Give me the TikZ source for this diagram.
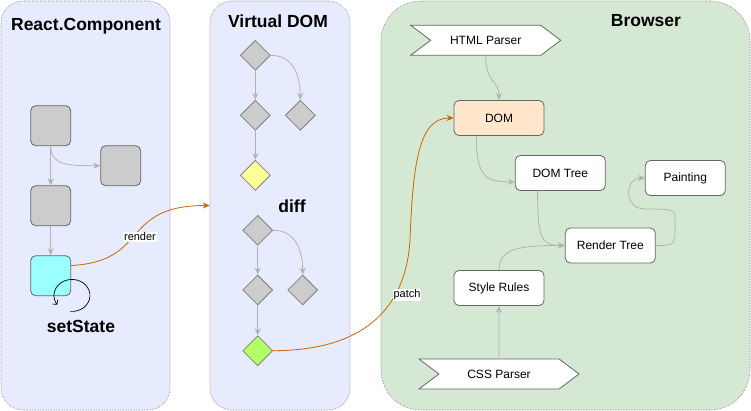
\documentclass[tikz,border=0pt]{standalone}
\usepackage{fontspec}
\setmainfont{Liberation Sans}
\usetikzlibrary{calc,shapes.geometric,shapes.symbols,arrows.meta}
\definecolor{panelblue}{HTML}{E6EBFD}
\definecolor{panelgreen}{HTML}{D5E8D4}
\definecolor{boxgray}{HTML}{CCCCCC}
\definecolor{linegray}{HTML}{B3B3B3}
\definecolor{edgegray}{HTML}{666666}
\definecolor{domfill}{HTML}{FFE6CC}
\definecolor{patchorange}{HTML}{CC6600}
\definecolor{stateblue}{HTML}{99FFFF}
\definecolor{diffyellow}{HTML}{FFFF99}
\definecolor{diffgreen}{HTML}{B3FF66}

\begin{document}
\begin{tikzpicture}[x=1pt,y=-1pt,line width=0.8pt,font=\fontsize{12}{14}\selectfont,
  panel/.style={draw=gray,densely dotted,line width=0.6pt,fill=panelblue,rounded corners=22pt,minimum height=409pt,inner sep=0pt},
  title/.style={font=\fontsize{17.5}{20}\selectfont\bfseries},
  comp/.style={draw=edgegray,fill=boxgray,rounded corners=5pt,minimum width=40pt,minimum height=40pt,inner sep=0pt},
  vnode/.style={diamond,draw=gray,fill=boxgray,minimum width=30pt,minimum height=30pt,inner sep=0pt},
  stage/.style={draw=edgegray,fill=white,rounded corners=5pt,minimum width=90pt,minimum height=35pt,inner sep=0pt},
  parser/.style={signal,signal from=west,signal to=east,signal pointer angle=74,draw=edgegray,fill=white,minimum width=150pt,minimum height=30pt,inner sep=0pt},
  link/.style={draw=linegray,-{Stealth[length=7pt,width=6pt]}},
  flow/.style={draw=patchorange,-{Stealth[length=7pt,width=6pt]}},
  tag/.style={fill=white,inner sep=1pt,font=\fontsize{11}{13}\selectfont}]
\useasboundingbox (0,0) rectangle (751,411);

\node[panel,minimum width=169pt] (rc) at (85.5,205.5) {};
\node[panel,minimum width=140pt] (vd) at (280,205.5) {};
\node[panel,fill=panelgreen,rounded corners=40pt,minimum width=369pt] (br) at (565.5,205.5) {};

\node[title] (rct) at (86,26) {React.Component};
\node[title] (vdt) at (278,21) {Virtual DOM};
\node[title] (brt) at (646,21) {Browser};
\node[title] (diff) at (292,206) {diff};
\node[title] (ss) at (81,326) {setState};

\node[comp] (c1) at (50.7,125.7) {};
\node[comp] (c2) at (120.7,165.7) {};
\node[comp] (c3) at (50.7,205.7) {};
\node[comp,fill=stateblue] (st) at (50.7,275.7) {};

\draw[link] (c1) -- (c3);
\draw[link] (c1.south) .. controls +(0,20) and +(-30,0) .. (c2.west);
\draw[link] (c3) -- (st);
\draw[black,line width=0.7pt,-{Straight Barb[length=3pt,width=7pt]}] ($(st.south east)+(-0.7,15.3)$) arc[start angle=95,end angle=-215,x radius=18,y radius=16];

\node[vnode] (v1) at (255.3,55.3) {};
\node[vnode] (v2) at (255.3,115.3) {};
\node[vnode] (v3) at (300.3,115.3) {};
\node[vnode,fill=diffyellow] (v4) at (255.3,175.3) {};
\node[vnode] (w1) at (257.7,230.3) {};
\node[vnode] (w2) at (257.7,290) {};
\node[vnode] (w3) at (302.7,290) {};
\node[vnode,fill=diffgreen] (w4) at (257.7,350.7) {};

\draw[link] (v1) -- (v2);
\draw[link] (v1.east) .. controls +(22,0) and +(0,-25) .. (v3.north);
\draw[link] (v2) -- (v4);
\draw[link] (w1) -- (w2);
\draw[link] (w1.east) .. controls +(22,0) and +(0,-25) .. (w3.north);
\draw[link] (w2) -- (w4);

\node[stage,fill=domfill] (dom) at (499,118) {DOM};
\node[stage] (dt) at (560.3,173) {DOM Tree};
\node[stage,minimum width=80pt] (pt) at (685.3,178) {Painting};
\node[stage] (rt) at (610.3,245.5) {Render Tree};
\node[stage] (sr) at (499,288) {Style Rules};
\node[parser] (hp) at (485.7,40.3) {HTML Parser};
\node[parser,minimum width=160pt] (cp) at (499,374) {CSS Parser};

\draw[link] (hp.south) .. controls +(0,28) and +(0,-20) .. (dom.north);
\draw[link] ($(dom.south west)!0.25!(dom.south east)$) .. controls +(0,40) and +(-30,0) .. ($(dt.north west)!0.75!(dt.south west)$);
\draw[link] ($(dt.south west)!0.25!(dt.south east)$) .. controls +(0,45) and +(-25,0) .. (rt.west);
\draw[link] (sr.north) .. controls +(0,-22) and +(-45,0) .. (rt.west);
\draw[link] (rt.east) .. controls +(22,0) and +(0,30) .. (675,215) .. controls +(0,-6) and +(20,0) .. (645,209) .. controls +(-22,0) and +(-20,0) .. (pt.west);
\draw[link] (cp) -- (sr);

\draw[flow] ($(st.north east)!0.25!(st.south east)$) .. controls +(79,-4) and +(-90,0) .. (vd.west);
\draw[flow] (w4.east) .. controls +(77,0) and +(-5,80) .. (410,240) .. controls +(3,-80) and +(-34,0) .. (dom.west);
\node[tag] (rl) at (140,237) {render};
\node[tag] (pl) at (407,295) {patch};
\end{tikzpicture}
\end{document}
